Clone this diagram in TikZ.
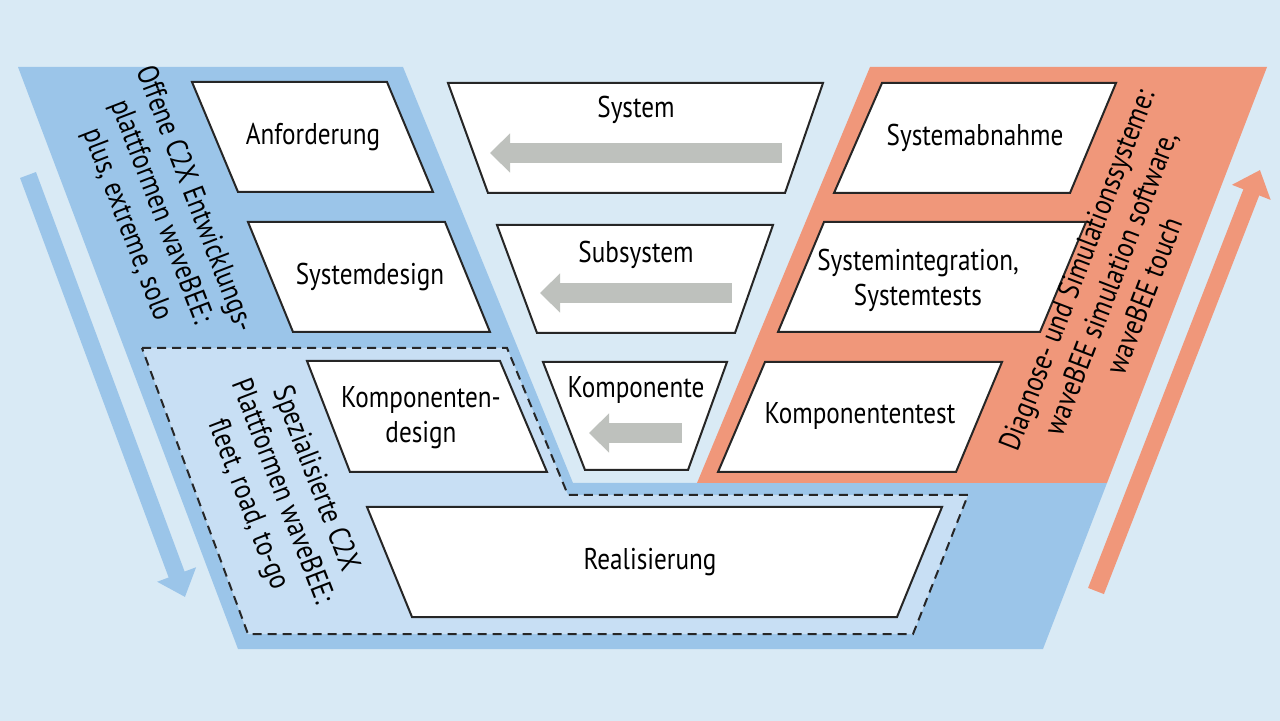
\documentclass[tikz,border=0pt]{standalone}
\usepackage{fontspec}
\setmainfont[FakeStretch=0.84]{PT Sans}
\usetikzlibrary{arrows.meta}
\definecolor{bg}{RGB}{217,234,245}
\definecolor{vblue}{RGB}{155,197,233}
\definecolor{vorange}{RGB}{240,151,122}
\definecolor{dashfill}{RGB}{200,223,244}
\definecolor{arrowgrey}{RGB}{190,193,189}
\begin{document}
\begin{tikzpicture}[x=0.5pt,y=-0.5pt,
  boxline/.style={draw=black!85, fill=white, line width=1pt, line join=miter},
  lbl/.style={font=\fontsize{15}{17.5}\selectfont, align=center, inner sep=0pt, text=black},
  rotlbl/.style={font=\fontsize{15}{18}\selectfont, align=center, inner sep=0pt, text=black},
  greyarrow/.style={draw=arrowgrey, line width=10pt, -{Triangle[width=19pt,length=10pt]}},
  bandarrow/.style={line width=8.5pt, -{Triangle[width=20pt,length=12pt]}}]

\fill[bg] (0,0) rectangle (1280,721);
\useasboundingbox (0,0) rectangle (1280,721);

% coloured V regions
\fill[vblue] (18,67) -- (403,67) -- (573,483) -- (1107,483) -- (1043,649) -- (238,649) -- cycle;
\fill[vorange] (870,67) -- (1267,67) -- (1107,483) -- (697,483) -- cycle;

% dashed region
\draw[fill=dashfill, draw=black!85, dash pattern=on 4.5pt off 3pt, line width=1pt]
  (142,348) -- (507,348) -- (568,495) -- (968,495) -- (913,634) -- (248,634) -- cycle;

% side arrows
\coordinate (la0) at (28,175);
\coordinate (la1) at (185,597);
\draw[bandarrow, vblue] (la0) -- (la1);
\coordinate (ra0) at (1096,591);
\coordinate (ra1) at (1260,170);
\draw[bandarrow, vorange] (ra0) -- (ra1);

% left column boxes
\draw[boxline] (192,82) -- (387,82) -- (433,192) -- (238,192) -- cycle;
\node[lbl] (anf) at (313,137) {Anforderung};
\draw[boxline] (248,222) -- (445,222) -- (490,332) -- (293,332) -- cycle;
\node[lbl] (sysd) at (370,277) {Systemdesign};
\draw[boxline] (307,361) -- (500,361) -- (547,472) -- (350,472) -- cycle;
\node[lbl] (kompd) at (421,418) {Komponenten-\\design};

% middle column
\draw[boxline] (448,83) -- (823,83) -- (785,193) -- (488,193) -- cycle;
\node[lbl] (sys) at (636,110) {System};
\coordinate (g1a) at (782,153);
\coordinate (g1b) at (490,153);
\draw[greyarrow] (g1a) -- (g1b);
\draw[boxline] (497,225) -- (773,225) -- (735,333) -- (537,333) -- cycle;
\node[lbl] (subsys) at (636,255) {Subsystem};
\coordinate (g2a) at (732,293);
\coordinate (g2b) at (540,293);
\draw[greyarrow] (g2a) -- (g2b);
\draw[boxline] (543,362) -- (727,362) -- (688,470) -- (585,470) -- cycle;
\node[lbl] (komp) at (636,390) {Komponente};
\coordinate (g3a) at (682,433);
\coordinate (g3b) at (589,433);
\draw[greyarrow] (g3a) -- (g3b);

% right column
\draw[boxline] (882,83) -- (1116,83) -- (1070,193) -- (834,193) -- cycle;
\node[lbl] (abn) at (975,138) {Systemabnahme};
\draw[boxline] (824,222) -- (1086,222) -- (1040,332) -- (778,332) -- cycle;
\node[lbl] (integ) at (918,280) {Systemintegration,\\Systemtests};
\draw[boxline] (765,362) -- (1002,362) -- (956,472) -- (718,472) -- cycle;
\node[lbl] (ktest) at (860,416) {Komponententest};

% bottom
\draw[boxline] (367,507) -- (942,507) -- (897,617) -- (412,617) -- cycle;
\node[lbl] (real) at (650,562) {Realisierung};

% rotated labels
\node[rotlbl, rotate=-69] (offen) at (160,212)
  {Offene C2X Entwicklungs-\\plattformen waveBEE:\\plus, extreme, solo};
\node[rotlbl, rotate=-69] (spez) at (281,492)
  {Spezialisierte C2X\\Plattformen waveBEE:\\fleet, road, to-go};
\node[rotlbl, rotate=69] (diag) at (1110,283)
  {Diagnose- und Simulationssysteme:\\waveBEE simulation software,\\waveBEE touch};
\end{tikzpicture}
\end{document}
